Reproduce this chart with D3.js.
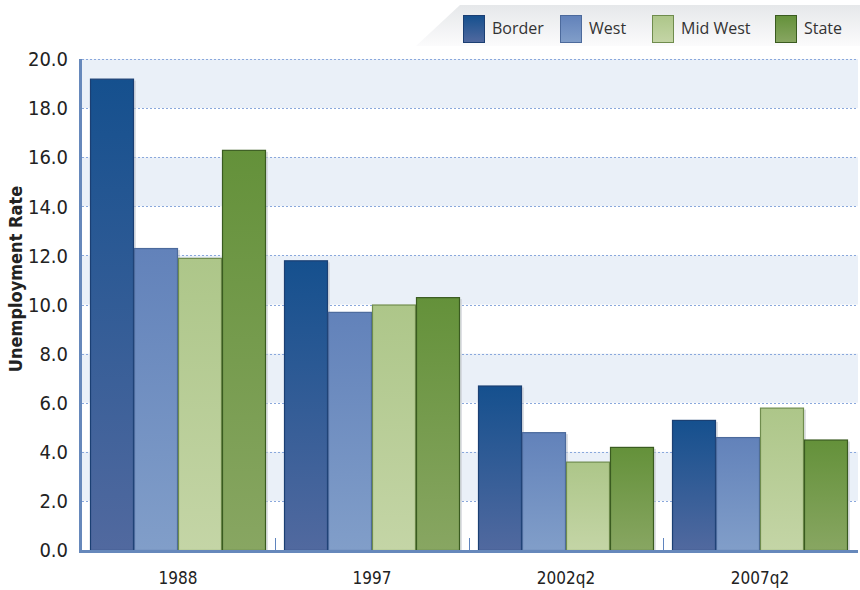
<!DOCTYPE html>
<html>
<head>
<meta charset="utf-8">
<script src="https://cdn.jsdelivr.net/npm/d3@7"></script>
<style>
  html, body { margin: 0; padding: 0; background: #fff; }
  svg { display: block; }
  .tick-y { font-family: "Liberation Sans Narrow", "DejaVu Sans Condensed", sans-serif; font-size: 20px; fill: #222; }
  .tick-x { font-family: "Liberation Sans Narrow", "DejaVu Sans Condensed", sans-serif; font-size: 17px; fill: #222; }
  .legend-text { font-family: "Open Sans", "Noto Sans", sans-serif; font-size: 16px; fill: #333; }
  .y-title { font-family: "Liberation Sans Narrow", "DejaVu Sans Condensed", sans-serif; font-size: 18px; font-weight: bold; fill: #222; }
</style>
</head>
<body>
<div id="vis"></div>
<script>
(function () {
  'use strict';

  var WIDTH = 860;
  var HEIGHT = 590;

  var categories = ['1988', '1997', '2002q2', '2007q2'];
  var series = ['Border', 'West', 'Mid West', 'State'];
  var border = [19.2, 11.8, 6.7, 5.3];
  var west = [12.3, 9.7, 4.8, 4.6];
  var midWest = [11.9, 10.0, 3.6, 5.8];
  var state = [16.3, 10.3, 4.2, 4.5];
  var yTicks = [0, 2, 4, 6, 8, 10, 12, 14, 16, 18, 20];

  var values = [border, west, midWest, state];
  // colours: [top, bottom, stroke]
  var colors = [
    ['#15508e', '#51699f', '#1b3f73'],
    ['#6282ba', '#819ec9', '#4c6a9c'],
    ['#adc689', '#c4d5a6', '#6f8c4d'],
    ['#64913a', '#88a662', '#3a5b20']
  ];

  var PLOT = { left: 82, right: 858, top: 59, bottom: 550 };

  var svg = d3.select('#vis').append('svg')
    .attr('width', WIDTH)
    .attr('height', HEIGHT);

  var defs = svg.append('defs');
  colors.forEach(function (c, i) {
    var g = defs.append('linearGradient')
      .attr('id', 'grad' + i)
      .attr('x1', 0).attr('y1', 0).attr('x2', 0).attr('y2', 1);
    g.append('stop').attr('offset', '0%').attr('stop-color', c[0]);
    g.append('stop').attr('offset', '100%').attr('stop-color', c[1]);
  });
  var lg = defs.append('linearGradient')
    .attr('id', 'legendBg')
    .attr('x1', 0).attr('y1', 0).attr('x2', 0).attr('y2', 1);
  lg.append('stop').attr('offset', '0%').attr('stop-color', '#e6e8ea');
  lg.append('stop').attr('offset', '100%').attr('stop-color', '#fbfbfc');

  var y = d3.scaleLinear().domain([0, 20]).range([PLOT.bottom, PLOT.top]);
  var x0 = d3.scaleBand().domain(categories).range([PLOT.left, PLOT.right]);
  var x1 = d3.scaleBand().domain(series).range([8, x0.bandwidth() - 10]);

  // alternating bands
  var bandStarts = yTicks.filter(function (t, i) { return i % 2 === 1 && t < 20; });
  svg.append('g').selectAll('rect')
    .data(bandStarts)
    .enter().append('rect')
    .attr('x', PLOT.left)
    .attr('width', PLOT.right - PLOT.left)
    .attr('y', function (d) { return y(d + 2); })
    .attr('height', function (d) { return y(d) - y(d + 2); })
    .attr('fill', '#eaf0f8');

  // dotted grid lines
  svg.append('g').selectAll('line')
    .data(yTicks.filter(function (t) { return t > 0; }))
    .enter().append('line')
    .attr('x1', PLOT.left).attr('x2', PLOT.right)
    .attr('y1', function (d) { return Math.round(y(d)) + 0.5; })
    .attr('y2', function (d) { return Math.round(y(d)) + 0.5; })
    .attr('stroke', '#8aa8dc')
    .attr('stroke-width', 1)
    .attr('stroke-dasharray', '2,2');

  // bars
  var groups = svg.append('g').selectAll('g')
    .data(categories)
    .enter().append('g')
    .attr('transform', function (d) { return 'translate(' + x0(d) + ',0)'; });

  groups.each(function (cat, ci) {
    var g = d3.select(this);
    series.forEach(function (s, si) {
      var v = values[si][ci];
      var bx = x1(s);
      var bw = x1.bandwidth();
      // soft shadow on the right
      g.append('rect')
        .attr('x', bx + bw - 1)
        .attr('y', y(v) + 2)
        .attr('width', 3)
        .attr('height', PLOT.bottom - y(v) - 2)
        .attr('fill', '#c8ccd2')
        .attr('opacity', 0.6);
      g.append('rect')
        .attr('x', bx + 0.5)
        .attr('y', y(v) + 0.5)
        .attr('width', bw - 1)
        .attr('height', PLOT.bottom - y(v))
        .attr('fill', 'url(#grad' + si + ')')
        .attr('stroke', colors[si][2])
        .attr('stroke-width', 1.2);
    });
  });

  // group separator ticks
  svg.append('g').selectAll('line')
    .data(categories.slice(1))
    .enter().append('line')
    .attr('x1', function (d) { return Math.round(x0(d)) - 0.5; })
    .attr('x2', function (d) { return Math.round(x0(d)) - 0.5; })
    .attr('y1', PLOT.bottom - 12)
    .attr('y2', PLOT.bottom)
    .attr('stroke', '#5f84be')
    .attr('stroke-width', 1);

  // axes lines
  svg.append('line')
    .attr('x1', PLOT.left - 1.5).attr('x2', PLOT.left - 1.5)
    .attr('y1', PLOT.top).attr('y2', PLOT.bottom + 3)
    .attr('stroke', '#6688bb').attr('stroke-width', 3);
  svg.append('line')
    .attr('x1', PLOT.left - 3).attr('x2', PLOT.right)
    .attr('y1', PLOT.bottom + 1.5).attr('y2', PLOT.bottom + 1.5)
    .attr('stroke', '#6688bb').attr('stroke-width', 3);

  // y tick labels
  svg.append('g').selectAll('text')
    .data(yTicks)
    .enter().append('text')
    .attr('class', 'tick-y')
    .attr('x', 68)
    .attr('y', function (d) { return y(d); })
    .attr('dy', '0.36em')
    .attr('text-anchor', 'end')
    .text(function (d) { return d3.format('.1f')(d); });

  // x labels
  svg.append('g').selectAll('text')
    .data(categories)
    .enter().append('text')
    .attr('class', 'tick-x')
    .attr('x', function (d) { return x0(d) + 8 + (x0.bandwidth() - 18) / 2; })
    .attr('y', 584)
    .attr('text-anchor', 'middle')
    .text(function (d) { return d; });

  // y title
  svg.append('text')
    .attr('class', 'y-title')
    .attr('transform', 'translate(22,279) rotate(-90)')
    .attr('text-anchor', 'middle')
    .text('Unemployment Rate');

  // legend
  var legend = svg.append('g');
  legend.append('path')
    .attr('d', 'M460,5 L860,5 L860,46 L416,46 Z')
    .attr('fill', 'url(#legendBg)');
  var legendX = [463, 560, 652, 775];
  series.forEach(function (s, i) {
    legend.append('rect')
      .attr('x', legendX[i] + 0.5).attr('y', 15.5)
      .attr('width', 21).attr('height', 27)
      .attr('fill', 'url(#grad' + i + ')')
      .attr('stroke', colors[i][2])
      .attr('stroke-width', 1);
    legend.append('text')
      .attr('class', 'legend-text')
      .attr('x', legendX[i] + 29)
      .attr('y', 34)
      .text(s);
  });
})();
</script>
</body>
</html>
